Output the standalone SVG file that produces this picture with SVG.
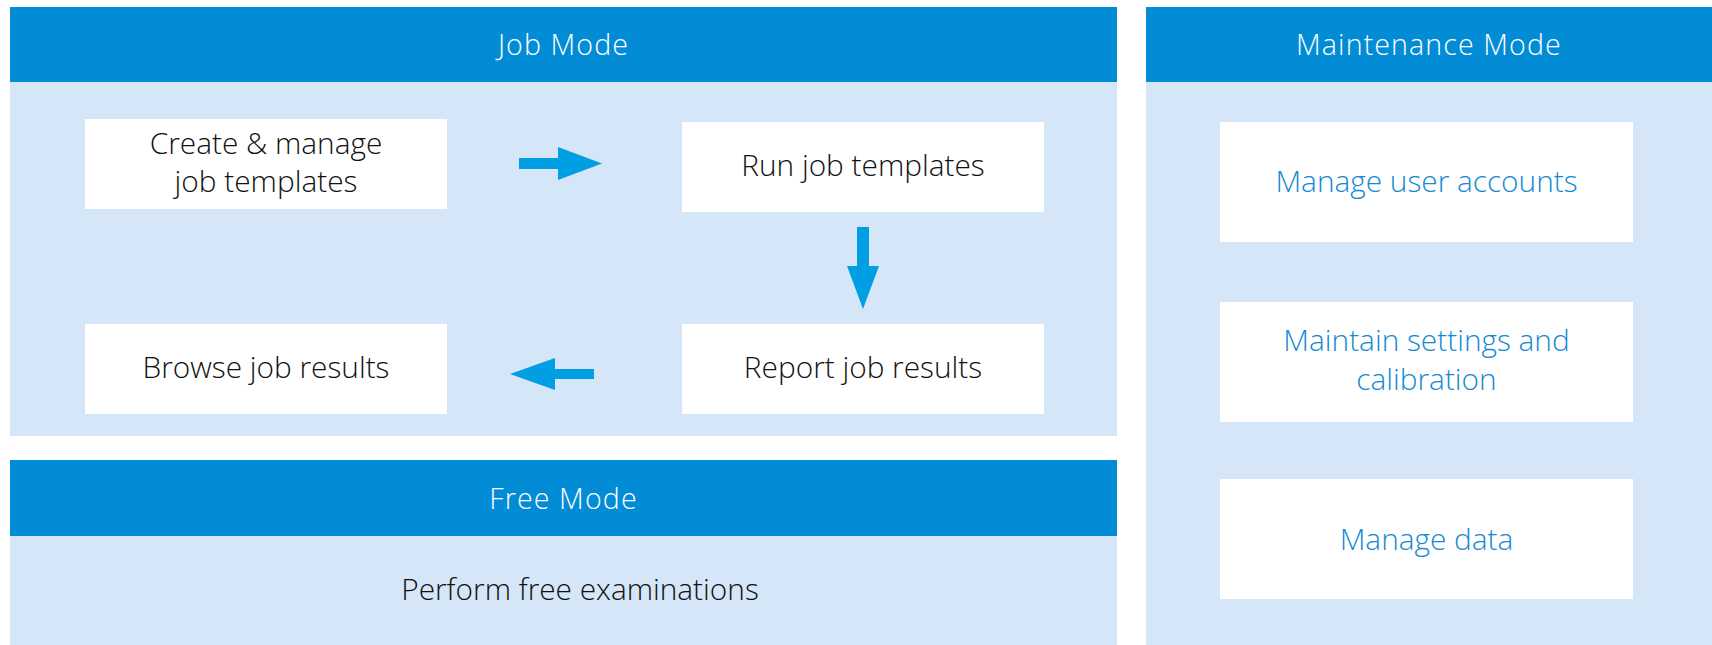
<svg xmlns="http://www.w3.org/2000/svg" width="1712" height="645" viewBox="0 0 1712 645">
<defs>
<style>
.hdr{fill:#028CD6}
.pnl{fill:#D4E6F7}
.box{fill:#FFFFFF}
.arr{fill:#009FE3}
text{font-family:"Open Sans","Noto Sans","DejaVu Sans",sans-serif;font-size:29.8px;font-weight:300;text-anchor:middle}
.ht{fill:#FFFFFF;font-size:28.6px;letter-spacing:1.1px}
.bt{fill:#111111}
.mt{fill:#1589D2}
</style>
</defs>
<rect width="1712" height="645" fill="#FFFFFF"/>
<g id="job-mode">
<rect class="pnl" x="10" y="82" width="1107" height="354"/>
<rect class="hdr" x="10" y="7" width="1107" height="75"/>
<text class="ht" x="563.5" y="55">Job Mode</text>
</g>
<g id="create-templates">
<rect class="box" x="85" y="119" width="362" height="90"/>
<text class="bt" x="266" y="153.5">Create &amp; manage</text>
<text class="bt" x="266" y="191.5">job templates</text>
</g>
<g id="run-templates">
<rect class="box" x="682" y="122" width="362" height="90"/>
<text class="bt" x="863" y="176">Run job templates</text>
</g>
<g id="report-results">
<rect class="box" x="682" y="324" width="362" height="90"/>
<text class="bt" x="863" y="378">Report job results</text>
</g>
<g id="browse-results">
<rect class="box" x="85" y="324" width="362" height="90"/>
<text class="bt" x="266" y="378">Browse job results</text>
</g>
<g id="free-mode">
<rect class="pnl" x="10" y="536" width="1107" height="109"/>
<rect class="hdr" x="10" y="460" width="1107" height="76"/>
<text class="ht" x="563.5" y="509">Free Mode</text>
<text class="bt" x="580" y="600">Perform free examinations</text>
</g>
<g id="maintenance-mode">
<rect class="pnl" x="1146" y="82" width="566" height="563"/>
<rect class="hdr" x="1146" y="7" width="566" height="75"/>
<text class="ht" x="1429" y="55">Maintenance Mode</text>
</g>
<g id="manage-users">
<rect class="box" x="1220" y="122" width="413" height="120"/>
<text class="mt" x="1426.5" y="192">Manage user accounts</text>
</g>
<g id="maintain-settings">
<rect class="box" x="1220" y="302" width="413" height="120"/>
<text class="mt" x="1426.5" y="351">Maintain settings and</text>
<text class="mt" x="1426.5" y="389.5">calibration</text>
</g>
<g id="manage-data">
<rect class="box" x="1220" y="479" width="413" height="120"/>
<text class="mt" x="1426.5" y="550">Manage data</text>
</g>
<g id="connectors">
<polygon class="arr" points="519,158 558,158 558,147 602,163.5 558,180 558,169 519,169"/>
<polygon class="arr" points="857,227 869,227 869,266 879,266 863,309 847,266 857,266"/>
<polygon class="arr" points="594,369 555,369 555,358 510,374 555,390 555,379 594,379"/>
</g>
</svg>
